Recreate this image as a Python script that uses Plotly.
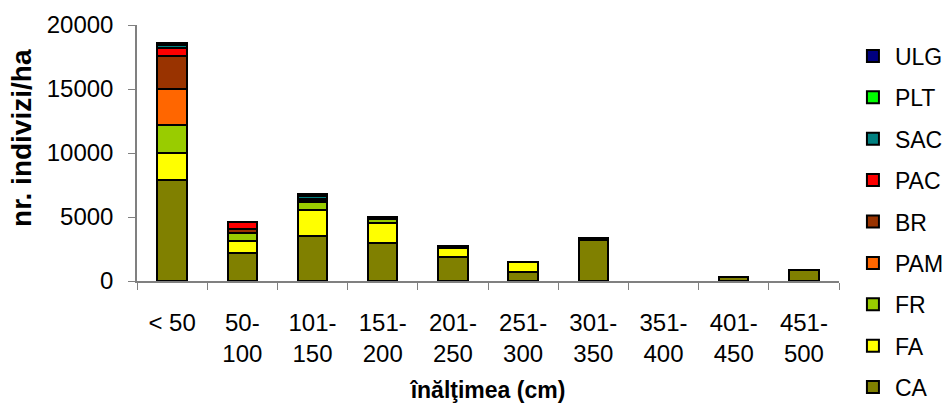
import plotly.graph_objects as go

# Height classes (cm)
categories = ["< 50", "50-<br>100", "101-<br>150", "151-<br>200", "201-<br>250",
              "251-<br>300", "301-<br>350", "351-<br>400", "401-<br>450", "451-<br>500"]

# Individuals per hectare for each species, per height class
CA = [7900, 2200, 3550, 3000, 1850, 700, 3200, 0, 350, 850]
FA = [2100, 950, 2000, 1550, 750, 780, 0, 0, 0, 0]
FR = [2150, 600, 600, 300, 0, 0, 0, 0, 0, 0]
PAM = [2850, 0, 0, 0, 0, 0, 0, 0, 0, 0]
BR = [2550, 350, 150, 0, 0, 0, 0, 0, 0, 0]
PAC = [650, 500, 100, 0, 0, 0, 0, 0, 0, 0]
SAC = [250, 0, 250, 0, 0, 0, 0, 0, 0, 0]
PLT = [0, 0, 0, 0, 0, 0, 0, 0, 0, 0]
ULG = [150, 0, 150, 150, 150, 0, 150, 0, 0, 0]

# stacking order bottom -> top
series = [
    ("CA", CA, "#808000"),
    ("FA", FA, "#FFFF00"),
    ("FR", FR, "#99CC00"),
    ("PAM", PAM, "#FF6600"),
    ("BR", BR, "#993300"),
    ("PAC", PAC, "#FF0000"),
    ("SAC", SAC, "#008080"),
    ("PLT", PLT, "#00FF00"),
    ("ULG", ULG, "#000080"),
]

FONT = "Arial, Liberation Sans, sans-serif"

fig = go.Figure()
n = len(series)
for i, (name, vals, color) in enumerate(series):
    fig.add_trace(go.Bar(
        x=categories,
        y=[v if v else None for v in vals],
        name=name, legendgroup=name, legendrank=n - i,
        marker=dict(color=color, line=dict(color="black", width=2)),
    ))

fig.update_layout(
    barmode="stack",
    bargap=0.58,
    width=948, height=404,
    margin=dict(l=137, r=109, t=25, b=123, autoexpand=False),
    paper_bgcolor="white", plot_bgcolor="white",
    font=dict(family=FONT, size=24, color="black"),
    showlegend=True,
    legend=dict(
        traceorder="grouped", tracegroupgap=8.5,
        x=1.017, xanchor="left", y=0.963, yanchor="top",
        font=dict(size=23), itemwidth=34, maxheight=600,
        bgcolor="rgba(0,0,0,0)",
    ),
    xaxis=dict(
        type="category", tickson="boundaries", ticks="outside", ticklen=7,
        tickcolor="#808080", showline=True, linecolor="#808080", linewidth=1.5,
        showgrid=False, tickangle=0, ticklabelstandoff=19,
        title=dict(text="<b>înălţimea (cm)</b>", font=dict(size=23), standoff=16),
    ),
    yaxis=dict(
        range=[0, 20000], tickvals=[0, 5000, 10000, 15000, 20000], tickformat="d",
        ticks="outside", ticklen=7, tickcolor="#808080",
        showline=True, linecolor="#808080", linewidth=1.5,
        showgrid=False, zeroline=False, ticklabelstandoff=10,
    ),
    annotations=[dict(
        text="<b>nr. indivizi/ha</b>", textangle=-90,
        xref="paper", yref="paper", x=-0.1638, y=0.559,
        xanchor="center", yanchor="middle", showarrow=False,
        font=dict(size=28),
    )],
)

fig.write_html("out.html")
